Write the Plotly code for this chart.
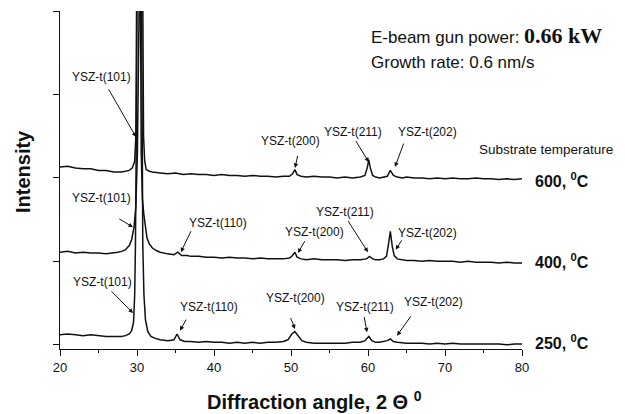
import plotly.graph_objects as go

# ---------------- data ----------------
angle_600 = [20, 21, 22, 23, 24, 25, 26, 27, 28, 28.5,
             29, 29.4, 29.7, 29.85, 30.0, 30.7, 30.85, 31.0, 31.2, 31.6,
             32, 33, 34, 35, 36, 37, 38, 39, 40, 41,
             42, 43, 44, 45, 46, 47, 48, 49, 49.8, 50.2,
             50.5, 50.8, 51.3, 52, 53, 54, 55, 56, 57, 58,
             59, 59.6, 59.9, 60.1, 60.3, 60.6, 61, 61.5, 62, 62.5,
             62.9, 63.3, 63.8, 64.5, 65, 66, 67, 68, 69, 70,
             71, 72, 73, 74, 75, 76, 77, 78, 79, 80]
int_600 = [2.13, 2.14, 2.12, 2.11, 2.11, 2.09, 2.09, 2.07, 2.07, 2.08,
           2.09, 2.12, 2.20, 2.50, 5.00, 5.00, 2.50, 2.20, 2.10, 2.08,
           2.07, 2.06, 2.05, 2.06, 2.04, 2.05, 2.04, 2.04, 2.03, 2.04,
           2.03, 2.03, 2.02, 2.03, 2.02, 2.02, 2.01, 2.02, 2.02, 2.05,
           2.10, 2.04, 2.02, 2.01, 2.02, 2.01, 2.01, 2.00, 2.01, 2.00,
           2.01, 2.03, 2.12, 2.22, 2.12, 2.03, 2.01, 2.00, 2.01, 2.02,
           2.09, 2.03, 2.01, 2.00, 2.01, 2.00, 2.00, 1.99, 2.00, 1.99,
           2.00, 1.99, 1.99, 2.00, 1.99, 1.99, 1.98, 1.99, 1.98, 1.99]

angle_400 = [20, 21, 22, 23, 24, 25, 26, 27, 27.5, 28,
             28.5, 29, 29.3, 29.6, 29.85, 30.05, 30.2, 30.4, 30.55, 30.7,
             30.9, 31.1, 31.3, 31.6, 32, 32.5, 33, 34, 34.8, 35.3,
             35.8, 36.5, 37, 38, 39, 40, 41, 42, 43, 44,
             45, 46, 47, 48, 49, 49.8, 50.2, 50.5, 50.8, 51.3,
             52, 53, 54, 55, 56, 57, 58, 59, 59.8, 60.2,
             60.6, 61, 61.5, 62, 62.4, 62.65, 62.9, 63.15, 63.4, 63.8,
             64.5, 65, 66, 67, 68, 69, 70, 71, 72, 73,
             74, 75, 76, 77, 78, 79, 80]
int_400 = [1.11, 1.12, 1.10, 1.11, 1.10, 1.10, 1.09, 1.10, 1.11, 1.12,
           1.14, 1.19, 1.26, 1.40, 1.65, 2.30, 5.00, 5.00, 2.30, 1.75,
           1.55, 1.40, 1.28, 1.21, 1.16, 1.13, 1.11, 1.09, 1.08, 1.11,
           1.07, 1.07, 1.06, 1.06, 1.05, 1.05, 1.04, 1.05, 1.04, 1.04,
           1.03, 1.04, 1.03, 1.03, 1.03, 1.04, 1.07, 1.11, 1.05, 1.03,
           1.02, 1.03, 1.02, 1.02, 1.02, 1.01, 1.02, 1.02, 1.03, 1.06,
           1.03, 1.02, 1.02, 1.03, 1.06, 1.20, 1.36, 1.18, 1.07, 1.03,
           1.02, 1.01, 1.01, 1.00, 1.01, 1.00, 1.00, 1.00, 0.99, 1.00,
           0.99, 0.99, 0.99, 0.98, 0.99, 0.98, 0.98]

angle_250 = [20, 21, 22, 23, 24, 25, 26, 27, 28, 28.5,
             29, 29.3, 29.55, 29.7, 29.8, 29.95, 30.05, 30.55, 30.65, 30.75,
             30.9, 31.1, 31.4, 31.8, 32.3, 33, 34, 34.8, 35.2, 35.6,
             36.2, 37, 38, 39, 40, 41, 42, 43, 44, 45,
             46, 47, 48, 49, 49.6, 50.1, 50.5, 50.9, 51.4, 52,
             53, 54, 55, 56, 57, 58, 59, 59.6, 60.1, 60.5,
             61, 61.5, 62, 62.5, 62.9, 63.3, 63.8, 64.5, 65, 66,
             67, 68, 69, 70, 71, 72, 73, 74, 75, 76,
             77, 78, 79, 80]
int_250 = [0.12, 0.13, 0.12, 0.11, 0.12, 0.11, 0.10, 0.10, 0.10, 0.11,
           0.13, 0.17, 0.27, 0.60, 1.20, 3.00, 5.00, 5.00, 3.00, 1.20,
           0.60, 0.30, 0.16, 0.10, 0.08, 0.06, 0.05, 0.06, 0.13, 0.06,
           0.04, 0.04, 0.03, 0.04, 0.03, 0.03, 0.02, 0.03, 0.02, 0.03,
           0.02, 0.03, 0.03, 0.04, 0.06, 0.13, 0.16, 0.11, 0.05, 0.03,
           0.02, 0.02, 0.02, 0.02, 0.02, 0.03, 0.03, 0.05, 0.10, 0.05,
           0.03, 0.03, 0.04, 0.05, 0.07, 0.04, 0.03, 0.02, 0.02, 0.02,
           0.02, 0.01, 0.02, 0.01, 0.02, 0.01, 0.01, 0.01, 0.01, 0.01,
           0.01, 0.00, 0.01, 0.01]

x_ticks = [20, 30, 40, 50, 60, 70, 80]
y_ticks = [0, 1, 2, 3, 4]

series = [("600", angle_600, int_600), ("400", angle_400, int_400), ("250", angle_250, int_250)]

temp_labels = ["600, <sup>0</sup>C", "400, <sup>0</sup>C", "250, <sup>0</sup>C"]
temp_label_y = [1.98, 1.0, 0.03]

# peak labels: text, text position (x, y), arrow tail (x, y), arrow head (x, y)
peak_labels = [
    ("YSZ-t(101)", 25.45, 3.21, 26.2, 3.08, 29.87, 2.49),
    ("YSZ-t(200)", 49.87, 2.44, 50.9, 2.28, 50.52, 2.12),
    ("YSZ-t(211)", 58.05, 2.55, 58.3, 2.46, 60.1, 2.19),
    ("YSZ-t(202)", 67.79, 2.55, 64.7, 2.43, 63.5, 2.13),
    ("YSZ-t(101)", 25.45, 1.76, 27.5, 1.52, 29.48, 1.41),
    ("YSZ-t(110)", 40.52, 1.46, 37.1, 1.38, 35.7, 1.11),
    ("YSZ-t(200)", 52.99, 1.35, 51.9, 1.26, 50.9, 1.10),
    ("YSZ-t(211)", 57.01, 1.59, 57.3, 1.50, 60.0, 1.11),
    ("YSZ-t(202)", 67.79, 1.34, 64.5, 1.27, 63.6, 1.14),
    ("YSZ-t(101)", 25.58, 0.75, 26.5, 0.66, 29.48, 0.38),
    ("YSZ-t(110)", 39.35, 0.455, 36.5, 0.32, 35.58, 0.17),
    ("YSZ-t(200)", 50.52, 0.56, 49.87, 0.34, 50.52, 0.19),
    ("YSZ-t(211)", 59.61, 0.455, 59.48, 0.35, 59.87, 0.15),
    ("YSZ-t(202)", 68.57, 0.51, 65.7, 0.36, 63.77, 0.11),
]

SANS = "Liberation Sans, Arial, sans-serif"
INK = "#111111"

# the page body has an 8px margin; the figure is sized so the plot area lands
# where the reference puts it (x 60..522, y 11..349 in the window)
PLOT_L, PLOT_R, PLOT_T, PLOT_B = 60, 522, 11, 349
PW, PH = PLOT_R - PLOT_L, PLOT_B - PLOT_T


def px(xpix):
    return (xpix - PLOT_L) / PW


def py(ypix):
    return (PLOT_B - ypix) / PH


fig = go.Figure()
for name, xs, ys in series:
    fig.add_trace(go.Scatter(x=xs, y=ys, mode="lines", name=name,
                             line=dict(color=INK, width=1.5),
                             showlegend=False, hoverinfo="skip"))

ann = []
for text, tx, ty, ax, ay, hx, hy in peak_labels:
    ann.append(dict(x=tx, y=ty, xref="x", yref="y", text=text, showarrow=False,
                    font=dict(family=SANS, size=12, color=INK)))
    ann.append(dict(x=hx, y=hy, xref="x", yref="y", ax=ax, ay=ay, axref="x", ayref="y",
                    text="", showarrow=True, arrowhead=2, arrowsize=0.9, arrowwidth=1,
                    arrowcolor=INK))

for lab, ly in zip(temp_labels, temp_label_y):
    ann.append(dict(x=px(533), y=ly, xref="paper", yref="y", text="<b>" + lab + "</b>",
                    showarrow=False, xanchor="left", yanchor="middle",
                    font=dict(family=SANS, size=16, color=INK)))

ann.append(dict(x=px(546), y=2.34, xref="paper", yref="y", text="Substrate temperature",
                showarrow=False, xanchor="center", yanchor="middle",
                font=dict(family=SANS, size=13.5, color=INK)))
ann.append(dict(x=px(369), y=py(35), xref="paper", yref="paper",
                xanchor="left", yanchor="middle", showarrow=False,
                text="E-beam gun power: <span style='font-family:Liberation Serif, Times New Roman, serif;"
                     "font-size:22px;font-weight:bold'>0.66 kW</span>",
                font=dict(family=SANS, size=17, color=INK)))
ann.append(dict(x=px(369), y=py(62), xref="paper", yref="paper",
                xanchor="left", yanchor="middle", showarrow=False,
                text="Growth rate: 0.6 nm/s",
                font=dict(family=SANS, size=17, color=INK)))
ann.append(dict(x=px(314), y=py(400), xref="paper", yref="paper",
                xanchor="center", yanchor="middle", showarrow=False,
                text="<b>Diffraction angle, 2 \u0398 <sup>0</sup></b>",
                font=dict(family=SANS, size=20, color=INK)))
ann.append(dict(x=px(23), y=py(172), xref="paper", yref="paper",
                xanchor="center", yanchor="middle", showarrow=False, textangle=-90,
                text="<b>Intensity</b>",
                font=dict(family=SANS, size=20, color=INK)))

BODY = 8
FIG_W, FIG_H = 625 - BODY, 414 - BODY
fig.update_layout(
    width=FIG_W, height=FIG_H,
    margin=dict(l=PLOT_L - BODY, r=FIG_W - (PLOT_R - BODY), t=PLOT_T - BODY,
                b=FIG_H - (PLOT_B - BODY), pad=0),
    paper_bgcolor="white", plot_bgcolor="white",
    annotations=ann,
    xaxis=dict(range=[20, 80], tickvals=x_ticks, ticks="outside", ticklen=6, tickwidth=1,
               tickcolor=INK, showline=True, linecolor=INK, linewidth=1.3,
               showgrid=False, zeroline=False,
               minor=dict(dtick=5, tick0=25, ticks="outside", ticklen=3, tickcolor=INK),
               tickfont=dict(family=SANS, size=13, color=INK)),
    yaxis=dict(range=[-0.05, 4.0], tickvals=y_ticks, showticklabels=False,
               ticks="outside", ticklen=6, tickwidth=1, tickcolor=INK,
               showline=True, linecolor=INK, linewidth=1.3,
               showgrid=False, zeroline=False),
)

fig.write_html("out.html")
